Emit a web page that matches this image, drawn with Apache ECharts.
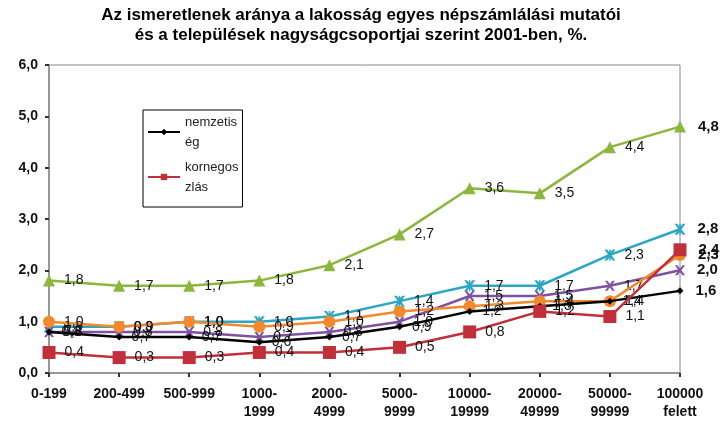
<!DOCTYPE html>
<html><head><meta charset="utf-8">
<script src="https://cdn.jsdelivr.net/npm/echarts@6/dist/echarts.min.js"></script>
<style>html,body{margin:0;padding:0;background:#fff}#c{width:722px;height:439px}</style>
</head><body><div id="c"></div>
<script>
var categories = ['0-199','200-499','500-999','1000-\n1999','2000-\n4999','5000-\n9999','10000-\n19999','20000-\n49999','50000-\n99999','100000\nfelett'];
var yTicks = [0,1,2,3,4,5,6];
var nemzetiseg = [0.8,0.7,0.7,0.6,0.7,0.9,1.2,1.3,1.4,1.6];
var kormegoszlas = [0.4,0.3,0.3,0.4,0.4,0.5,0.8,1.2,1.1,2.4];
var greenSeries = [1.8,1.7,1.7,1.8,2.1,2.7,3.6,3.5,4.4,4.8];
var cyanSeries = [0.9,0.9,1.0,1.0,1.1,1.4,1.7,1.7,2.3,2.8];
var purpleSeries = [0.8,0.8,0.8,0.7,0.8,1.0,1.5,1.5,1.7,2.0];
var orangeSeries = [1.0,0.9,1.0,0.9,1.0,1.2,1.3,1.4,1.4,2.3];
var names = ['nemzetis\nég','kornegos\nzlás','g','c','p','o'];

var fmt = function(v){ return v.toFixed(1).replace('.', ','); };
var xPath = 'path://M0,0 L2.5,0 L5,3.2 L7.5,0 L10,0 L6.3,5 L10,10 L7.5,10 L5,6.8 L2.5,10 L0,10 L3.7,5 Z';
var starPath = 'path://M0,0 L2.5,0 L4.3,2.4 L4.3,0 L5.7,0 L5.7,2.4 L7.5,0 L10,0 L6.3,5 L10,10 L7.5,10 L5.7,7.6 L5.7,10 L4.3,10 L4.3,7.6 L2.5,10 L0,10 L3.7,5 Z';

function mk(arr){
  return arr.map(function(v,i){
    if(i === arr.length-1) return {value:v, label:{fontWeight:'bold', fontSize:15, distance:12}};
    return v;
  });
}
function ser(name, arr, color, symbol, size, z){
  return {
    name: name, type:'line', data: mk(arr), symbol: symbol, symbolSize: size, z: z,
    lineStyle:{color:color, width:2.5}, itemStyle:{color:color},
    label:{show:true, position:'right', distance:9, color:'#111', fontSize:14,
      fontFamily:'Liberation Sans, Arial', formatter:function(p){return fmt(p.value);}},
    emphasis:{disabled:true}, animation:false
  };
}
var chart = echarts.init(document.getElementById('c'), null, {renderer:'canvas'});
chart.setOption({
  animation:false,
  backgroundColor:'#fff',
  title:{text:'Az ismeretlenek aránya a lakosság egyes népszámlálási mutatói\nés a települések nagyságcsoportjai szerint 2001-ben, %.',
    left:'center', top:0, textStyle:{fontSize:17, fontWeight:'bold', color:'#000', lineHeight:20, fontFamily:'Liberation Sans, Arial'}},
  grid:{left:49, right:42, top:65, bottom:66, show:true, borderColor:'#888', borderWidth:1},
  legend:{data:[names[0],names[1]], orient:'vertical', left:143, top:110, width:104, height:96,
    padding:[2,4,10,4], itemGap:5, itemWidth:32, itemHeight:8,
    borderColor:'#000', borderWidth:1, backgroundColor:'#fff',
    textStyle:{fontSize:13, color:'#222', fontFamily:'Liberation Sans, Arial', lineHeight:20}},
  xAxis:{type:'category', data:categories, boundaryGap:false,
    axisLine:{lineStyle:{color:'#888', width:1.5}},
    axisTick:{alignWithLabel:true, length:4, lineStyle:{color:'#333', width:2}},
    axisLabel:{fontSize:14, fontWeight:'bold', color:'#111', margin:12, lineHeight:18, interval:0, fontFamily:'Liberation Sans, Arial'}},
  yAxis:{type:'value', min:yTicks[0], max:yTicks[yTicks.length-1], interval:1,
    splitLine:{show:false},
    axisLine:{show:true, lineStyle:{color:'#888', width:1.5}},
    axisTick:{show:true, length:4, lineStyle:{color:'#333', width:2}},
    axisLabel:{fontSize:14, fontWeight:'bold', color:'#111', margin:11, formatter:function(v){return fmt(v);}, fontFamily:'Liberation Sans, Arial'}},
  series:[
    ser(names[2], greenSeries, '#8cb63c', 'triangle', 12, 2),
    ser(names[3], cyanSeries, '#2ba6c4', starPath, 11, 3),
    ser(names[4], purpleSeries, '#7d52a1', xPath, 10, 4),
    ser(names[5], orangeSeries, '#f28a2c', 'circle', 12, 5),
    ser(names[0], nemzetiseg, '#000000', 'diamond', 7, 6),
    ser(names[1], kormegoszlas, '#c1303a', 'rect', 13, 7)
  ]
});
</script></body></html>
